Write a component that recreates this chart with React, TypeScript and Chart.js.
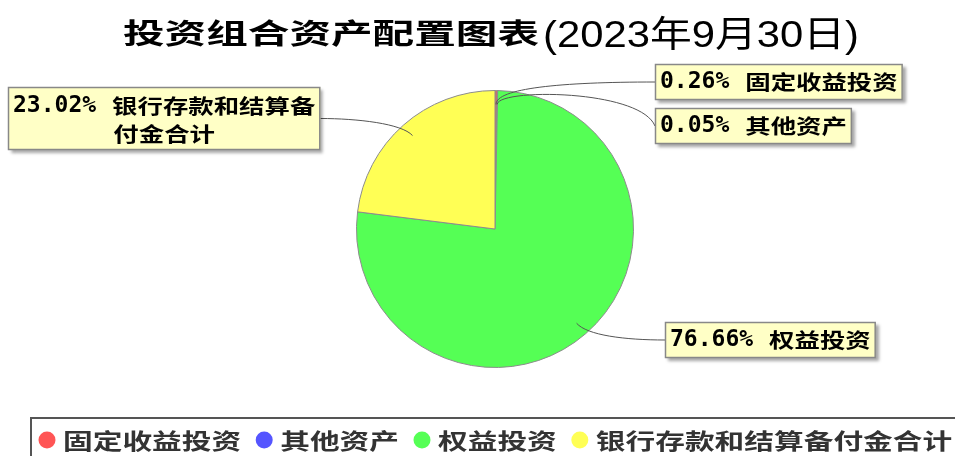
import React, { useEffect, useRef } from "react";
import { Chart, registerables } from "chart.js";
Chart.register(...registerables);

const titleMain = "投资组合资产配置图表";
const titleDate = "(2023年9月30日)";
const categories = ["固定收益投资", "其他资产", "权益投资", "银行存款和结算备付金合计"];
const values = [0.26, 0.05, 76.66, 23.02];
const colors = ["#FF5555", "#5555FF", "#55FF55", "#FFFF55"];

// callout box placement (top-left) and link curve shaping, per slice
const labelBoxes = [
  { x: 655, y: 64, side: "left", c2: [-95, 0] },
  { x: 655, y: 108, side: "left", c2: [-15, -37] },
  { x: 665, y: 322, side: "left", c2: [-40, 0] },
  { x: 8, y: 87, side: "right", c2: [37, 0] },
];

const CJK = '"Noto Sans CJK SC"';

function drawScaled(
  ctx: CanvasRenderingContext2D,
  text: string,
  x: number,
  y: number,
  font: string,
  sx: number,
  color: string,
  baseline: CanvasTextBaseline = "middle"
) {
  ctx.save();
  ctx.font = font;
  ctx.fillStyle = color;
  ctx.textBaseline = baseline;
  ctx.textAlign = "left";
  ctx.translate(x, y);
  ctx.scale(sx, 1);
  ctx.fillText(text, 0, 0);
  ctx.restore();
}

function measureScaled(ctx: CanvasRenderingContext2D, text: string, font: string, sx: number) {
  ctx.save();
  ctx.font = font;
  const w = ctx.measureText(text).width * sx;
  ctx.restore();
  return w;
}

const calloutPlugin = {
  id: "callouts",
  afterDraw(chart: any) {
    const ctx: CanvasRenderingContext2D = chart.ctx;

    // ---- title ----
    const tFont1 = `bold 28px ${CJK}`;
    const w1 = measureScaled(ctx, titleMain, tFont1, 1);
    const sx1 = 416 / w1;
    drawScaled(ctx, titleMain, 123, 33, tFont1, sx1, "#000", "middle");
    const tFont2 = `36px "Liberation Sans", ${CJK}`;
    const w2 = measureScaled(ctx, titleDate, tFont2, 1);
    const sx2 = 316 / w2;
    drawScaled(ctx, titleDate, 543, 47, tFont2, sx2, "#000", "alphabetic");

    // ---- callouts ----
    const meta = chart.getDatasetMeta(0);
    const pctFont = `bold 23px "DejaVu Sans Mono"`;
    const pctSx = 1.0;
    const nameFont = `bold 20px ${CJK}`;
    const nameSx = 1.27;
    const gap = 16;
    const maxW = 305;

    meta.data.forEach((arc: any, i: number) => {
      const p = arc.getProps(["x", "y", "startAngle", "endAngle", "outerRadius"], true);
      const mid = (p.startAngle + p.endAngle) / 2;
      const r = p.outerRadius * 0.9;
      const ax = p.x + Math.cos(mid) * r;
      const ay = p.y + Math.sin(mid) * r;
      const box = labelBoxes[i];

      const pct = values[i].toFixed(2) + "%";
      const pctW = measureScaled(ctx, pct, pctFont, pctSx);
      // wrap name
      const name = categories[i];
      const lines: string[] = [];
      let cur = "";
      let avail = maxW - pctW - gap;
      for (const ch of name) {
        const test = cur + ch;
        if (measureScaled(ctx, test, nameFont, nameSx) > avail && cur.length) {
          lines.push(cur);
          cur = ch;
          avail = maxW;
        } else cur = test;
      }
      lines.push(cur);
      const lineWidths = lines.map((l, k) => (k === 0 ? pctW + gap : 0) + measureScaled(ctx, l, nameFont, nameSx));
      const bw = Math.max(...lineWidths) + 10;
      const bh = lines.length === 1 ? 36 : 63;

      // link
      const ex = box.side === "left" ? box.x : box.x + bw;
      const ey = box.y + bh / 2;
      const ox = Math.cos(mid), oy = Math.sin(mid);
      ctx.save();
      ctx.strokeStyle = "#555";
      ctx.lineWidth = 1;
      ctx.beginPath();
      ctx.moveTo(ax, ay);
      ctx.bezierCurveTo(ax + ox * 16, ay + oy * 16, ex + box.c2[0], ey + box.c2[1], ex, ey);
      ctx.stroke();
      ctx.restore();

      // box
      ctx.save();
      ctx.shadowColor = "rgba(0,0,0,0.35)";
      ctx.shadowOffsetX = 3;
      ctx.shadowOffsetY = 3;
      ctx.shadowBlur = 3;
      ctx.fillStyle = "#FFFFC6";
      ctx.fillRect(box.x, box.y, bw, bh);
      ctx.restore();
      ctx.save();
      ctx.strokeStyle = "#888";
      ctx.lineWidth = 1.5;
      ctx.strokeRect(box.x + 0.5, box.y + 0.5, bw - 1, bh - 1);
      ctx.restore();

      lines.forEach((l, k) => {
        const cy = lines.length === 1 ? box.y + 18.5 : box.y + 19.5 + k * 27.5;
        if (k === 0) {
          drawScaled(ctx, pct, box.x + 5, cy, pctFont, pctSx, "#000");
          drawScaled(ctx, l, box.x + 5 + pctW + gap, cy, nameFont, nameSx, "#000");
        } else {
          const lw = lineWidths[k];
          drawScaled(ctx, l, box.x + (bw - lw) / 2, cy, nameFont, nameSx, "#000");
        }
      });
    });

    // ---- legend ----
    ctx.save();
    ctx.strokeStyle = "#555";
    ctx.lineWidth = 2;
    ctx.strokeRect(31, 418, 940, 60);
    ctx.restore();
    const legFont = `bold 22px ${CJK}`;
    const legSx = 1.35;
    let x = 39;
    const ly = 440;
    categories.forEach((c, i) => {
      ctx.save();
      ctx.fillStyle = colors[i];
      ctx.beginPath();
      ctx.arc(x + 8, ly, 8.5, 0, Math.PI * 2);
      ctx.fill();
      ctx.restore();
      const tx = x + 24;
      drawScaled(ctx, c, tx, ly + 1, legFont, legSx, "#333");
      x = tx + measureScaled(ctx, c, legFont, legSx) + 15;
    });
  },
};

export default function App() {
  const ref = useRef<HTMLCanvasElement>(null);
  useEffect(() => {
    document.body.style.margin = "0";
    const chart = new Chart(ref.current!, {
      type: "pie",
      data: {
        labels: categories,
        datasets: [
          {
            data: values,
            backgroundColor: colors,
            borderColor: "#8c8c8c",
            borderWidth: 1,
            hoverOffset: 0,
          },
        ],
      },
      options: {
        responsive: false,
        animation: false,
        devicePixelRatio: 1,
        events: [],
        layout: { padding: { left: 200, right: 165, top: 90, bottom: 88 } },
        plugins: {
          legend: { display: false },
          title: { display: false },
          tooltip: { enabled: false },
        },
      },
      plugins: [calloutPlugin],
    });
    return () => chart.destroy();
  }, []);
  return (
    <div style={{ position: "absolute", left: 0, top: 0, width: 955, height: 456, background: "#fff" }}>
      <canvas ref={ref} width={955} height={456} style={{ display: "block" }} />
    </div>
  );
}
